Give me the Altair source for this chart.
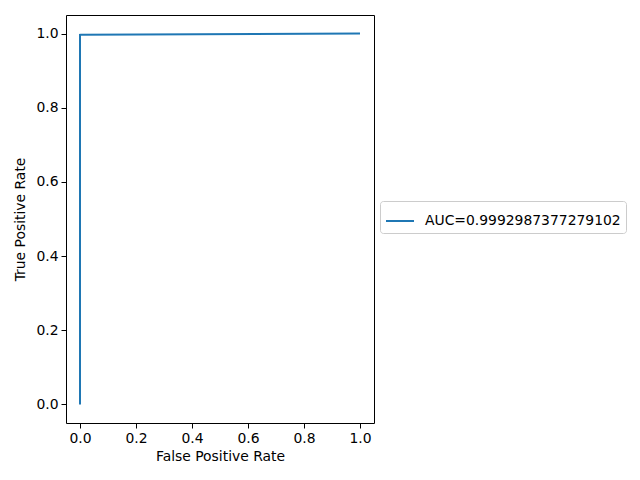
import altair as alt
import pandas as pd

fpr = [0.0, 0.0, 0.0, 0.002, 1.0]
tpr = [0.0, 0.5, 0.9965, 0.9966, 1.0]
label = "AUC=0.9992987377279102"

df = pd.DataFrame({"fpr": fpr, "tpr": tpr, "series": [label] * len(fpr), "order": list(range(len(fpr)))})

FONT = "DejaVu Sans"
FS = 13.9

chart = alt.Chart(df).mark_line(strokeWidth=2).encode(
    x=alt.X("fpr:Q", title="False Positive Rate",
            scale=alt.Scale(domain=[-0.05, 1.05], nice=False, zero=False),
            axis=alt.Axis(values=[0, 0.2, 0.4, 0.6, 0.8, 1.0], format=".1f")),
    y=alt.Y("tpr:Q", title="True Positive Rate",
            scale=alt.Scale(domain=[-0.05, 1.05], nice=False, zero=False),
            axis=alt.Axis(values=[0, 0.2, 0.4, 0.6, 0.8, 1.0], format=".1f")),
    order="order:Q",
    color=alt.Color("series:N", title=None,
                    scale=alt.Scale(domain=[label], range=["#1f77b4"]),
                    legend=alt.Legend(orient="none", legendX=314, legendY=186,
                                      symbolType="stroke", symbolStrokeWidth=2,
                                      symbolSize=784, labelFontSize=FS, labelFont=FONT,
                                      labelColor="black", labelLimit=0,
                                      strokeColor="#cccccc", fillColor="white",
                                      cornerRadius=3, padding=5,
                                      labelOffset=10)),
).properties(
    width=308, height=408,
    autosize=alt.AutoSizeParams(type="none"),
    padding={"left": 58, "top": 7, "right": 258, "bottom": 49},
).configure_view(
    stroke="black", strokeWidth=1, fill="white"
).configure_axis(
    grid=False, domain=False, tickColor="black", tickSize=5, tickWidth=1,
    labelFont=FONT, labelFontSize=FS, labelColor="black", labelPadding=3,
    titleFont=FONT, titleFontSize=FS, titleFontWeight="normal", titleColor="black",
).configure_axisX(titlePadding=5).configure_axisY(titlePadding=8)

chart.save("out.html", embed_options={"renderer": "svg", "actions": False})
